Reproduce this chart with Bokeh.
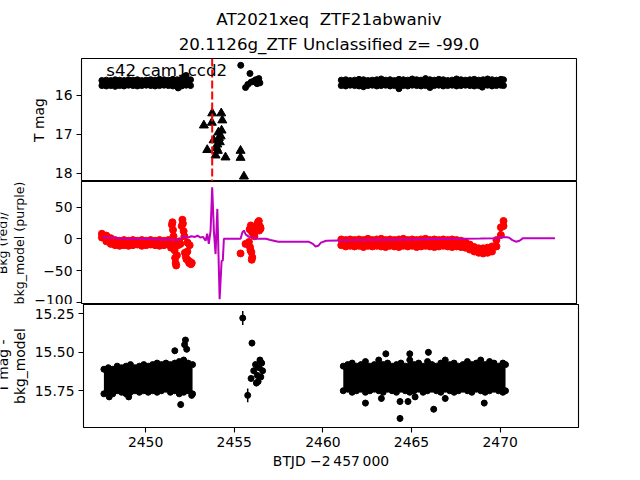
import math
from bokeh.plotting import figure
from bokeh.layouts import column, row
from bokeh.models import (Range1d, FixedTicker, Label, Span, PrintfTickFormatter,
                          CustomJSTickFormatter, Title)
from bokeh.core.properties import value
from bokeh.embed import file_html
from bokeh.resources import INLINE

FONT = "DejaVu Sans"

# ---------------- text ----------------
title_line1 = "AT2021xeq\u00a0 ZTF21abwaniv"
title_line2 = "20.1126g_ZTF Unclassified z= -99.0"
sector_text = "s42 cam1ccd2"
x_label = "BTJD \u22122\u2009457\u2009000"
top_ylabel = "T mag"
mid_ylabel = ["Bkg (red)/", "bkg_model (purple)"]
bot_ylabel = ["T mag -", "bkg_model"]

# ---------------- axes ----------------
x_lo, x_hi = 2446.50, 2474.415
x_ticks = [2450, 2455, 2460, 2465, 2470]
top_ylim = (18.21, 15.055)
top_ticks = [16, 17, 18]
mid_ylim = (-103.3, 90.1)
mid_ticks = [-100, -50, 0, 50]
bot_ylim = (15.989, 15.189)
bot_ticks = [15.25, 15.50, 15.75]
sector_pos = (2447.9, 15.375)
discovery_t = 2453.87

# ---------------- sampling times of dense segments ----------------
t1 = [2447.65, 2447.90, 2448.15, 2448.40, 2448.65, 2448.90, 2449.15, 2449.40, 2449.65, 2449.90,
      2450.15, 2450.40, 2450.65, 2450.90, 2451.15, 2451.40, 2451.65, 2451.90, 2452.15, 2452.40, 2452.65]
t2 = [2461.15, 2461.40, 2461.65, 2461.90, 2462.15, 2462.40, 2462.65, 2462.90, 2463.15, 2463.40,
      2463.65, 2463.90, 2464.15, 2464.40, 2464.65, 2464.90, 2465.15, 2465.40, 2465.65, 2465.90,
      2466.15, 2466.40, 2466.65, 2466.90, 2467.15, 2467.40, 2467.65, 2467.90, 2468.15, 2468.40,
      2468.65, 2468.90, 2469.15, 2469.40, 2469.65, 2469.90, 2470.15, 2470.30]

# ---------------- top panel: T mag ----------------
top_hi1 = [15.62, 15.61, 15.62, 15.60, 15.61, 15.62, 15.60, 15.61, 15.60, 15.62, 15.61, 15.60, 15.61,
           15.59, 15.60, 15.61, 15.59, 15.60, 15.58, 15.57, 15.60]
top_lo1 = [15.75, 15.76, 15.75, 15.77, 15.75, 15.76, 15.74, 15.75, 15.76, 15.75, 15.74, 15.75, 15.76,
           15.75, 15.74, 15.75, 15.76, 15.76, 15.76, 15.74, 15.75]
top_hi2 = [15.61, 15.60, 15.62, 15.61, 15.59, 15.60, 15.62, 15.61, 15.60, 15.58, 15.61, 15.60, 15.62,
           15.59, 15.60, 15.61, 15.58, 15.60, 15.61, 15.57, 15.60, 15.61, 15.59, 15.60, 15.62, 15.61,
           15.58, 15.60, 15.61, 15.60, 15.59, 15.61, 15.60, 15.58, 15.60, 15.61, 15.59, 15.60]
top_lo2 = [15.75, 15.76, 15.74, 15.75, 15.76, 15.75, 15.75, 15.74, 15.76, 15.75, 15.74, 15.76, 15.75,
           15.76, 15.75, 15.76, 15.74, 15.75, 15.76, 15.75, 15.75, 15.75, 15.74, 15.76, 15.75, 15.74,
           15.76, 15.75, 15.74, 15.75, 15.76, 15.75, 15.75, 15.74, 15.76, 15.75, 15.74, 15.75]
top_pts_t = [2451.95, 2452.30, 2452.40, 2455.48, 2455.75, 2455.88, 2456.00, 2456.07, 2456.20, 2456.32,
             2456.40, 2456.50, 2456.56, 2462.40, 2464.40, 2466.15, 2469.10]
top_pts_m = [15.81, 15.52, 15.49, 15.23, 15.80, 15.72, 15.44, 15.66, 15.64, 15.60,
             15.70, 15.57, 15.68, 15.78, 15.83, 15.80, 15.79]
tri_t = [2453.40, 2453.59, 2453.85, 2453.87, 2453.95, 2454.06, 2454.12, 2454.16, 2454.19, 2454.22,
         2454.25, 2454.30, 2454.35, 2454.38, 2454.40, 2454.44, 2454.62, 2455.47, 2455.47, 2455.66]
tri_m = [16.77, 17.40, 16.70, 16.46, 17.15, 17.54, 17.35, 17.26, 17.42, 16.95,
         17.09, 17.20, 17.05, 16.46, 16.90, 16.64, 17.59, 17.42, 17.60, 18.08]

# ---------------- middle panel: Bkg (red) / bkg_model (purple) ----------------
bkg_hi1 = [8, 5, 1, -2, -3, -2, -3, -2, -3, -2, -3, -2, -3, -2, -3, -2]
bkg_lo1 = [2, -4, -8, -10, -11, -10, -11, -10, -9, -11, -10, -9, -10, -11, -10, -9]
bkg_hi2 = [-1, -2, -1, -2, -1, -2, 0, -2, -1, 0, -2, -1, -2, -1, 0, -2, -1, -2, -1, 0,
           -2, -1, -2, -1, -2, -1, -2, -3, -5, -9, -13, -15, -15, -14, -12, -2, 18, 28]
bkg_lo2 = [-10, -12, -11, -12, -11, -13, -11, -12, -11, -12, -13, -11, -12, -13, -11, -12, -11, -13, -12, -11,
           -12, -13, -12, -11, -12, -13, -12, -13, -14, -17, -20, -22, -23, -22, -20, -12, 6, 20]
bkg_pts_t = [2451.55, 2451.60, 2451.63, 2451.66, 2451.69, 2451.72, 2451.75, 2451.78, 2451.81, 2451.84,
             2451.88, 2451.95, 2452.02, 2452.08, 2452.15, 2452.19, 2452.22, 2452.26, 2452.30, 2452.33,
             2452.38, 2452.42, 2452.47, 2452.52, 2452.57, 2452.62, 2452.67, 2452.72, 2452.48, 2452.60,
             2455.47, 2455.75, 2455.94, 2456.00, 2456.03, 2456.08, 2456.10, 2456.13, 2455.98, 2456.05,
             2456.12, 2456.20, 2456.25, 2456.30, 2456.35, 2456.41, 2456.45, 2456.50, 2456.55, 2456.60,
             2456.52, 2456.58]
bkg_pts_v = [-14, 22, 26, 14, 4, -6, -18, -30, -38, -42,
             -26, -10, -4, -8, 20, 30, 24, 12, 4, -22,
             -28, -32, -20, -34, -38, -36, -40, -38, -6, -10,
             -23, -8, -5, -13, -18, -21, -33, -29, 15, 21,
             10, 8, 4, 12, 18, 22, 26, 28, 20, 16,
             13, 18]
model_t = [2447.67, 2448.2, 2448.8, 2449.5, 2450.2, 2450.8, 2451.4, 2451.9, 2452.1, 2452.3,
           2452.5, 2452.7, 2452.9, 2453.05, 2453.2, 2453.35, 2453.5, 2453.59, 2453.68, 2453.78,
           2453.87, 2453.97, 2454.06, 2454.16, 2454.29, 2454.40, 2454.47, 2454.53, 2455.47, 2455.57,
           2455.66, 2455.76, 2455.94, 2456.4, 2456.9, 2457.15, 2457.6, 2458.5, 2459.3, 2459.55,
           2459.7, 2459.85, 2460.0, 2460.3, 2461.0, 2462.0, 2463.5, 2465.0, 2466.5, 2468.0,
           2469.0, 2469.8, 2470.3, 2470.6, 2470.8, 2471.0, 2471.2, 2471.4, 2472.0, 2473.2]
model_v = [2.5, 1.5, 0.5, 0, -0.5, -1, -1, -2, 0, 4,
           2, 4, 3, 5, 2, 3, -3, 8, -8, 13,
           81, 10, -24, 47, -95, -35, -34, 0, 0, 10,
           13, 7, 3, 0, 0, -2, -4.5, -4.5, -4.5, -8,
           -12, -11, -6, -3, -2.5, -2, -1.5, -1, -0.5, 0,
           0.5, 1, 3, 2, -2, -4.5, -3, 1, 1, 1]

# ---------------- bottom panel: T mag - bkg_model ----------------
bot_hi1 = [15.61, 15.60, 15.61, 15.59, 15.60, 15.59, 15.58, 15.60, 15.59, 15.58, 15.59, 15.58, 15.57,
           15.58, 15.57, 15.58, 15.57, 15.56, 15.55, 15.57, 15.58]
bot_lo1 = [15.77, 15.76, 15.77, 15.75, 15.76, 15.77, 15.76, 15.75, 15.76, 15.75, 15.76, 15.75, 15.76,
           15.75, 15.74, 15.76, 15.75, 15.77, 15.76, 15.75, 15.77]
bot_hi2 = [15.59, 15.58, 15.57, 15.59, 15.58, 15.56, 15.59, 15.58, 15.55, 15.58, 15.57, 15.59, 15.58,
           15.57, 15.59, 15.55, 15.58, 15.57, 15.59, 15.56, 15.58, 15.59, 15.57, 15.55, 15.58, 15.57,
           15.59, 15.58, 15.56, 15.58, 15.57, 15.55, 15.58, 15.56, 15.57, 15.59, 15.57, 15.58]
bot_lo2 = [15.75, 15.74, 15.76, 15.75, 15.74, 15.76, 15.75, 15.74, 15.75, 15.76, 15.74, 15.75, 15.76,
           15.74, 15.75, 15.76, 15.75, 15.74, 15.76, 15.75, 15.74, 15.75, 15.76, 15.74, 15.75, 15.76,
           15.75, 15.74, 15.75, 15.76, 15.74, 15.75, 15.76, 15.75, 15.74, 15.75, 15.76, 15.75]
bot_pts_t = [2447.95, 2449.05, 2451.65, 2451.98, 2452.20, 2452.25, 2452.32, 2452.60,
             2455.48, 2455.76, 2455.95, 2456.00, 2456.10, 2456.20, 2456.25, 2456.30, 2456.35, 2456.40,
             2456.45, 2456.50, 2456.55, 2456.60,
             2462.40, 2463.30, 2463.55, 2464.35, 2464.35, 2464.80, 2464.90, 2465.20, 2465.95, 2466.25,
             2466.90, 2469.10]
bot_pts_v = [15.79, 15.79, 15.49, 15.84, 15.45, 15.42, 15.48, 15.78,
             15.277, 15.78, 15.67, 15.44, 15.62, 15.58, 15.70, 15.65, 15.69, 15.60,
             15.55, 15.66, 15.57, 15.62,
             15.83, 15.80, 15.51, 15.82, 15.93, 15.82, 15.51, 15.79, 15.50, 15.87,
             15.80, 15.83]
bot_pts_e = [0.02, 0.02, 0.02, 0.02, 0.02, 0.02, 0.02, 0.02,
             0.045, 0.045, 0.02, 0.02, 0.02, 0.02, 0.02, 0.02, 0.02, 0.02,
             0.02, 0.02, 0.02, 0.02,
             0.02, 0.02, 0.02, 0.02, 0.02, 0.02, 0.02, 0.02, 0.02, 0.02,
             0.02, 0.02]

# ---------------- layout / styling ----------------
PURPLE = "#bf00bf"
RED = "#ff0000"
TICK_FS = "13.9px"
MIDLABEL_FS = "12.6px"
TITLE_FS = "16.67px"
FRAME_LEFT = 81
FRAME_W = 495
FRAME_H = 123
TOP_BORDER = 58
BOTTOM_BORDER = 45
STRIP_W = 31      # width of the label strip left of the middle and bottom panels

x_range = Range1d(x_lo, x_hi)


def make_fig(ylim, ticks, top_border, show_x, strip_w):
    p = figure(frame_width=FRAME_W, frame_height=FRAME_H, x_range=x_range, y_range=Range1d(*ylim),
               output_backend="svg", toolbar_location=None, title=None,
               x_axis_location="below" if show_x else None,
               min_border_left=FRAME_LEFT - strip_w, min_border_right=56,
               min_border_top=top_border, min_border_bottom=BOTTOM_BORDER if show_x else 0)
    p.grid.visible = False
    p.outline_line_color = "black"
    p.outline_line_width = 1.1
    p.background_fill_color = "white"
    p.border_fill_color = "white"
    axes = list(p.yaxis) + (list(p.xaxis) if show_x else [])
    for ax in axes:
        ax.axis_line_color = None
        ax.major_tick_in = 0
        ax.major_tick_out = 5
        ax.minor_tick_in = 0
        ax.minor_tick_out = 0
        ax.major_tick_line_color = "black"
        ax.major_tick_line_width = 1.1
        ax.major_label_standoff = 4
        ax.major_label_text_font = FONT
        ax.major_label_text_font_size = TICK_FS
        ax.major_label_text_color = "black"
        ax.axis_label_text_font = FONT
        ax.axis_label_text_font_size = TICK_FS
        ax.axis_label_text_font_style = "normal"
        ax.axis_label_text_color = "black"
    p.yaxis.ticker = FixedTicker(ticks=ticks)
    if show_x:
        p.xaxis.ticker = FixedTicker(ticks=x_ticks)
        p.xaxis.axis_label = x_label
        p.xaxis.axis_label_standoff = 3
    return p


def make_strip(width, height):
    # pixel-coordinate strip holding the rotated two-line y-axis label of one panel
    s = figure(frame_width=width, frame_height=height,
               x_range=Range1d(0, width), y_range=Range1d(0, height),
               output_backend="svg", toolbar_location=None, title=None,
               x_axis_location=None, y_axis_location=None, min_border=0)
    s.outline_line_color = None
    s.grid.visible = False
    s.background_fill_color = "white"
    s.border_fill_color = "white"
    return s


# ---- top ----
p1 = make_fig(top_ylim, top_ticks, TOP_BORDER, False, 0)
p1.yaxis.axis_label = top_ylabel
p1.yaxis.axis_label_standoff = 5
p1.add_layout(Title(text=title_line2, align="center", text_font=FONT, text_font_size=TITLE_FS,
                    text_font_style="normal", text_color="black", standoff=9), "above")
p1.add_layout(Title(text=title_line1, align="center", text_font=FONT, text_font_size=TITLE_FS,
                    text_font_style="normal", text_color="black", standoff=0), "above")
for tt, hi, lo in ((t1, top_hi1, top_lo1), (t2, top_hi2, top_lo2)):
    p1.varea(x=tt, y1=hi, y2=lo, fill_color="black")
    p1.scatter(tt, hi, size=6, color="black")
    p1.scatter(tt, lo, size=6, color="black")
p1.scatter(top_pts_t, top_pts_m, size=6, color="black")
p1.scatter(tri_t, tri_m, marker="triangle", size=9, color="black")
p1.add_layout(Span(location=discovery_t, dimension="height", line_color=RED,
                   line_dash="8 3", line_width=2))
p1.add_layout(Label(x=sector_pos[0], y=sector_pos[1], text=sector_text, text_align="left",
                    text_baseline="alphabetic", text_font=FONT, text_font_size=TITLE_FS,
                    text_color="black"))

# ---- middle ----
p2 = make_fig(mid_ylim, mid_ticks, 0, False, STRIP_W)
p2.yaxis.formatter = CustomJSTickFormatter(
    code="return tick < 0 ? '\\u2212' + Math.abs(tick) : String(tick);")
n1 = len(bkg_hi1)
p2.varea(x=t1[:n1], y1=bkg_hi1, y2=bkg_lo1, fill_color=RED)
p2.scatter(t1[:n1], bkg_hi1, size=7, color=RED)
p2.scatter(t1[:n1], bkg_lo1, size=7, color=RED)
p2.varea(x=t2, y1=bkg_hi2, y2=bkg_lo2, fill_color=RED)
p2.scatter(t2, bkg_hi2, size=7, color=RED)
p2.scatter(t2, bkg_lo2, size=7, color=RED)
p2.scatter(bkg_pts_t, bkg_pts_v, size=7, color=RED)
p2.line(model_t, model_v, line_color=PURPLE, line_width=2)

# ---- bottom ----
p3 = make_fig(bot_ylim, bot_ticks, 0, True, STRIP_W)
p3.yaxis.formatter = PrintfTickFormatter(format="%.2f")
for tt, hi, lo in ((t1, bot_hi1, bot_lo1), (t2, bot_hi2, bot_lo2)):
    p3.varea(x=tt, y1=hi, y2=lo, fill_color="black")
    p3.scatter(tt, hi, size=6, color="black")
    p3.scatter(tt, lo, size=6, color="black")
p3.segment(x0=bot_pts_t, y0=[v - e for v, e in zip(bot_pts_v, bot_pts_e)],
           x1=bot_pts_t, y1=[v + e for v, e in zip(bot_pts_v, bot_pts_e)],
           line_color="black", line_width=1.5)
p3.scatter(bot_pts_t, bot_pts_v, size=6, color="black")

# ---- label strips (x = left edge of the rotated glyphs, in pixels) ----
H2 = FRAME_H
H3 = FRAME_H + BOTTOM_BORDER
s2 = make_strip(STRIP_W, H2)
s2.text(x=[-5.5, 11.5], y=[H2 - FRAME_H / 2] * 2, text=mid_ylabel, angle=math.pi / 2,
        text_align="center", text_baseline="top", text_font=value(FONT),
        text_font_size=value(MIDLABEL_FS), text_color="black")
s3 = make_strip(STRIP_W, H3)
s3.text(x=[-6.0, 11.0], y=[H3 - FRAME_H / 2] * 2, text=bot_ylabel, angle=math.pi / 2,
        text_align="center", text_baseline="top", text_font=value(FONT),
        text_font_size=value(TICK_FS), text_color="black")

layout = column(p1, row(s2, p2, spacing=0), row(s3, p3, spacing=0), spacing=0)
open("out.html", "w").write(file_html(layout, INLINE))
